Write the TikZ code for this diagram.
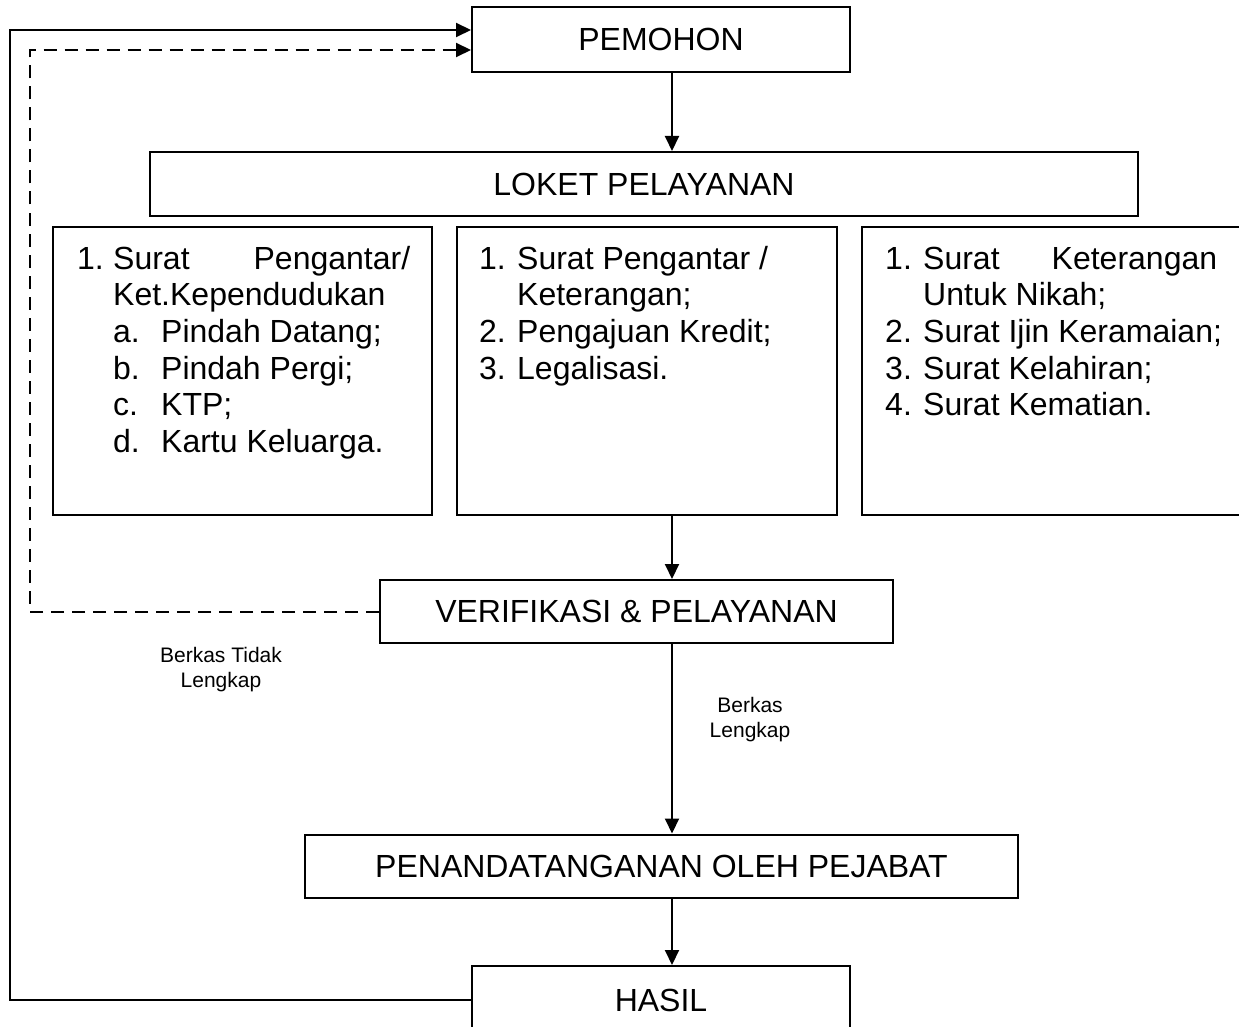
\documentclass[tikz,border=0pt]{standalone}
\usepackage{fontspec}
\setmainfont{Liberation Sans}
\usetikzlibrary{arrows.meta}
\begin{document}
\begin{tikzpicture}[x=1pt,y=-1pt,
  box/.style={draw, line width=2pt, inner sep=0pt, font=\fontsize{32}{38}\selectfont},
  listtext/.style={anchor=base west, inner sep=0pt, font=\fontsize{32}{36.7}\selectfont},
  arr/.style={line width=2pt, -{Triangle[length=15pt,width=14pt]}},
  dashline/.style={dash pattern=on 13pt off 8pt},
  small/.style={anchor=base, inner sep=0pt, font=\fontsize{21}{25.5}\selectfont}]
\useasboundingbox (0,0) rectangle (1239,1027);
% main boxes
\node[box, minimum width=378pt, minimum height=65pt] (pem) at (661,39.5) {PEMOHON};
\node[box, minimum width=988pt, minimum height=64pt] (loket) at (644,184) {LOKET PELAYANAN};
\node[box, minimum width=379pt, minimum height=288pt] (lb) at (242.5,371) {};
\node[box, minimum width=380pt, minimum height=288pt] (mb) at (647,371) {};
\node[box, minimum width=380pt, minimum height=288pt] (rb) at (1052,371) {};
\node[box, minimum width=513pt, minimum height=63pt] (verif) at (636.5,611.5) {VERIFIKASI \& PELAYANAN};
\node[box, minimum width=713pt, minimum height=63pt] (pen) at (661.5,866) {PENANDATANGANAN OLEH PEJABAT};
\node[box, minimum width=378pt, minimum height=68pt] (hasil) at (661,1000) {HASIL};
% list texts
\node[listtext] (lt) at (77,269) {\parbox[t]{350pt}{%
\makebox[36pt][l]{1.}\makebox[297pt]{Surat\hfill Pengantar/}\\
\hspace*{36pt}Ket.Kependudukan\\
\hspace*{36pt}\makebox[48pt][l]{a.}Pindah Datang;\\
\hspace*{36pt}\makebox[48pt][l]{b.}Pindah Pergi;\\
\hspace*{36pt}\makebox[48pt][l]{c.}KTP;\\
\hspace*{36pt}\makebox[48pt][l]{d.}Kartu Keluarga.}};
\node[listtext] (mt) at (479,269) {\parbox[t]{350pt}{%
\makebox[38pt][l]{1.}Surat Pengantar /\\
\hspace*{38pt}Keterangan;\\
\makebox[38pt][l]{2.}Pengajuan Kredit;\\
\makebox[38pt][l]{3.}Legalisasi.}};
\node[listtext] (rt) at (885,269) {\parbox[t]{360pt}{%
\makebox[38pt][l]{1.}\makebox[294pt]{Surat\hfill Keterangan}\\
\hspace*{38pt}Untuk Nikah;\\
\makebox[38pt][l]{2.}Surat Ijin Keramaian;\\
\makebox[38pt][l]{3.}Surat Kelahiran;\\
\makebox[38pt][l]{4.}Surat Kematian.}};
% labels
\node[small] (ltl) at (221,662) {\parbox[t]{200pt}{\centering Berkas Tidak\\Lengkap}};
\node[small] (ll) at (750,712) {\parbox[t]{150pt}{\centering Berkas\\Lengkap}};
% helper coordinates
\coordinate (ax) at (672,0);
\coordinate (sx) at (10,0);
\coordinate (dx) at (30,0);
\coordinate (pins) at ([yshift=9.5pt]pem.west);
\coordinate (pind) at ([yshift=-10.5pt]pem.west);
% connectors
\draw[arr] (pem.south -| ax) -- (loket.north -| ax);
\draw[arr] (mb.south -| ax) -- (verif.north -| ax);
\draw[arr] (verif.south -| ax) -- (pen.north -| ax);
\draw[arr] (pen.south -| ax) -- (hasil.north -| ax);
\draw[arr] (hasil.west) -- (hasil.west -| sx) -- (sx |- pins) -- (pins);
\draw[arr, dashline] (verif.west) -- (verif.west -| dx) -- (dx |- pind) -- (pind);
\end{tikzpicture}
\end{document}
